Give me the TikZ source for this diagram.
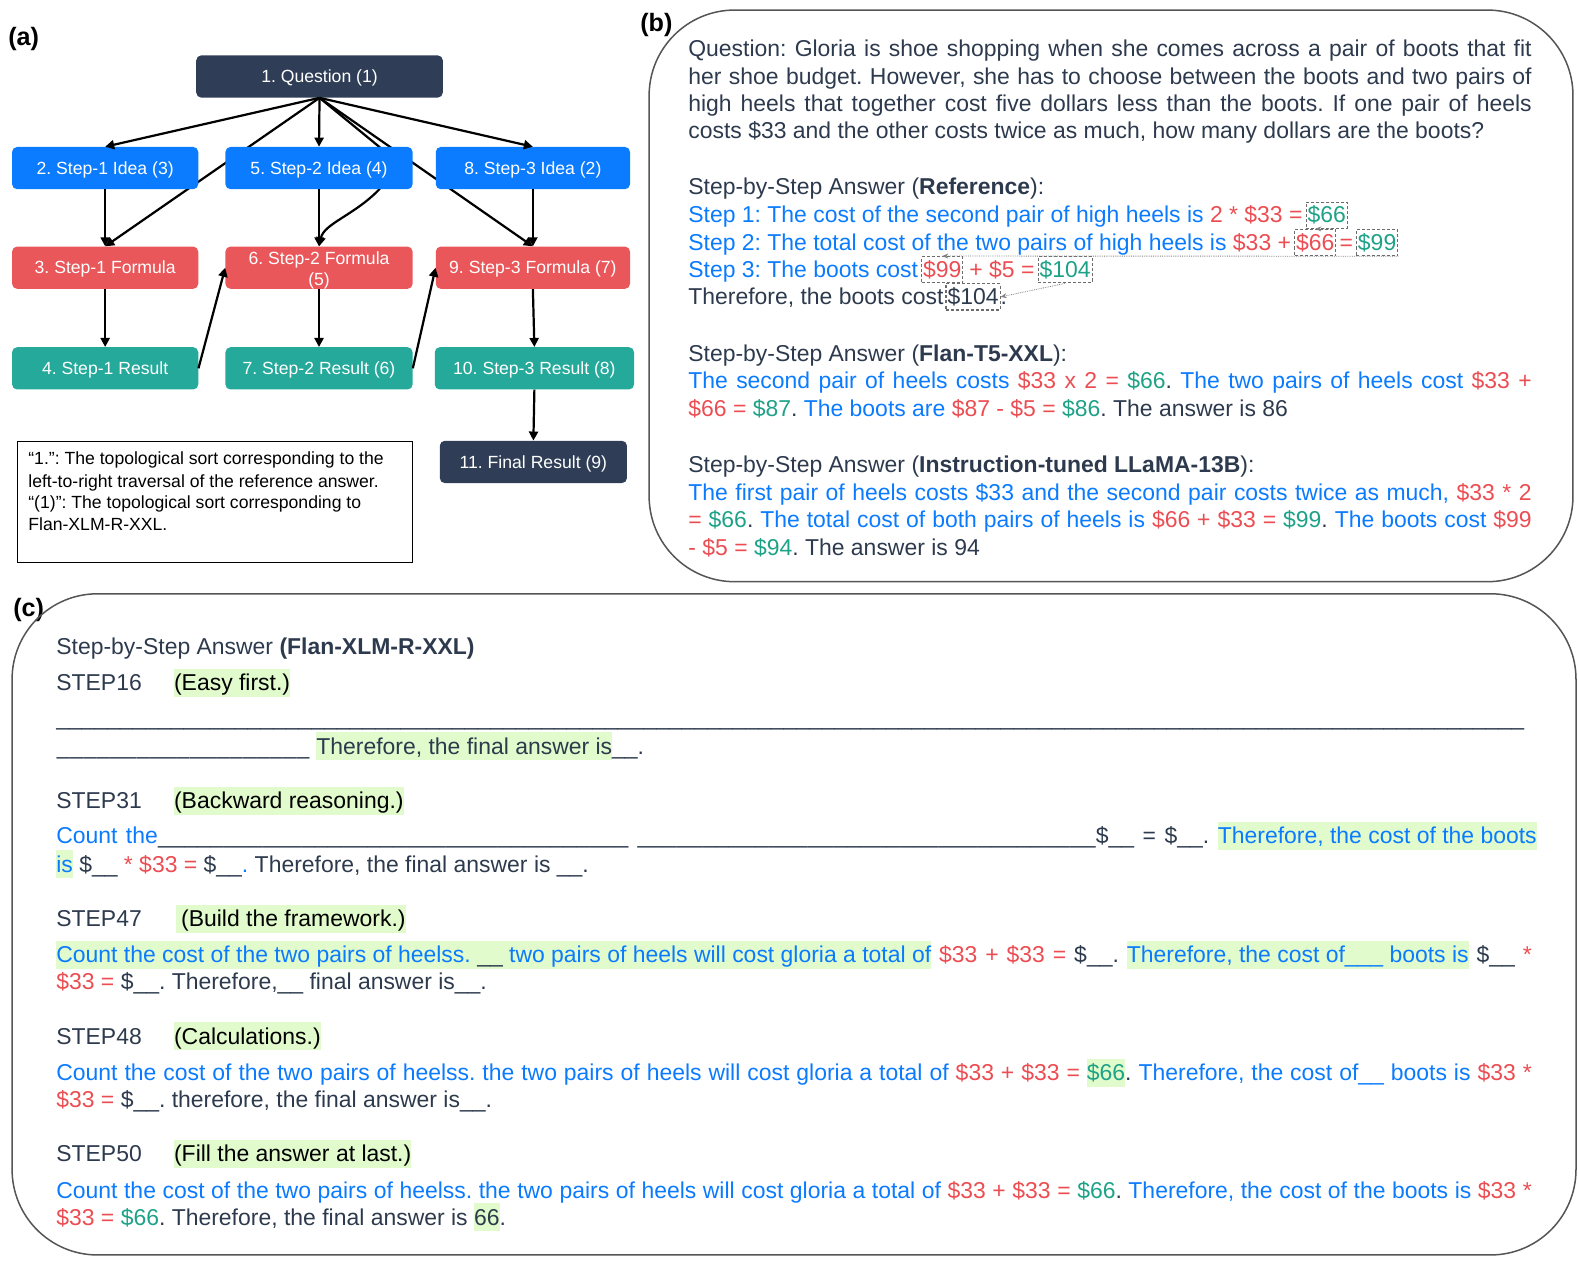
\documentclass[tikz,border=0pt]{standalone}
\usepackage{fontspec}
\setmainfont{Liberation Sans}
\usetikzlibrary{arrows.meta,backgrounds}
\definecolor{navy}{HTML}{2F3E56}
\definecolor{nblue}{HTML}{0B7CFF}
\definecolor{nred}{HTML}{E9575A}
\definecolor{nteal}{HTML}{24A99A}
\definecolor{tdark}{HTML}{2D3A4D}
\definecolor{tblue}{HTML}{0A7BFF}
\definecolor{tred}{HTML}{EB4D52}
\definecolor{tgreen}{HTML}{1EA287}
\definecolor{hlg}{HTML}{E1FBCC}
\definecolor{boxgray}{HTML}{555555}
\newcommand\fb{\fontsize{22.8}{27}\selectfont}
\newcommand\fnd{\fontsize{17.5}{21}\selectfont}
\newcommand\flab{\fontsize{25}{30}\selectfont\bfseries}
\newcommand\cB[1]{\textcolor{tblue}{#1}}
\newcommand\cR[1]{\textcolor{tred}{#1}}
\newcommand\cG[1]{\textcolor{tgreen}{#1}}
\newcommand\cD[1]{\textcolor{tdark}{#1}}
\newcommand\cK[1]{\textcolor{black}{#1}}
\newcommand\hlx[1]{{\setlength{\fboxsep}{0pt}\colorbox{hlg}{\rule[-0.27em]{0pt}{1.22em}#1}}}
\newcommand\ufill[1]{\hbox to #1pt{\xleaders\hbox{\_}\hfill}}
\newcommand\js[2]{\makebox[#1pt][s]{#2}}
\frenchspacing
\begin{document}
\frenchspacing
\begin{tikzpicture}[x=1pt,y=-1pt,
  lab/.style={anchor=base west, inner sep=0pt, font=\flab, text=black},
  gnode/.style={rounded corners=5pt, minimum height=42pt, text=white, font=\fnd, inner sep=2pt, align=center},
  gone/.style={gnode, text height=12.5pt, text depth=0pt},
  barr/.style={line width=2.2pt, draw=black, -{Triangle[length=9pt,width=9pt]}},
  txt/.style={anchor=base west, inner sep=0pt, outer sep=0pt, font=\fb, text=tdark},
  ltxt/.style={anchor=base west, inner sep=0pt, font=\fnd, text=black},
  pbox/.style={draw=boxgray, line width=1.5pt, rounded corners=85pt, inner sep=0pt},
  dbox/.style={draw=gray!85!black, dash pattern=on 3pt off 2pt, line width=1.1pt, inner xsep=1.5pt, inner ysep=0.5pt, text height=20pt, text depth=5pt, anchor=base west, font=\fb, text=tdark},
  garr/.style={draw=gray, line width=0.8pt, densely dotted, -{Stealth[length=6pt,width=5pt]}}
]
\useasboundingbox (0,0) rectangle (1568,1259);

% ---------- labels ----------
\node[lab] (la) at (8,45) {(a)};
\node[lab] (lb) at (636,31) {(b)};
\node[lab] (lc) at (13,613) {(c)};

% ---------- panel boxes ----------
\node[pbox, minimum width=918, minimum height=568] (pb) at (1104,294) {};
\node[pbox, minimum width=1554, minimum height=657] (pc) at (789,918.5) {};

% ---------- panel (a) ----------
\node[gone, fill=navy, minimum width=245] (n1) at (317.5,76) {1. Question (1)};
\node[gone, fill=nblue, minimum width=185] (n2) at (104.5,167) {2. Step-1 Idea (3)};
\node[gone, fill=nblue, minimum width=186] (n5) at (317,167) {5. Step-2 Idea (4)};
\node[gone, fill=nblue, minimum width=193] (n8) at (529.5,167) {8. Step-3 Idea (2)};
\node[gone, fill=nred, minimum width=185] (n3) at (104.5,266) {3. Step-1 Formula};
\node[gnode, fill=nred, minimum width=186,
  label={[yshift=-3pt, text=white, font=\fnd, align=center]center:{6. Step-2 Formula\\(5)}}] (n6) at (317,266) {};
\node[gone, fill=nred, minimum width=193] (n9) at (529.5,266) {9. Step-3 Formula (7)};
\node[gone, fill=nteal, minimum width=185] (n4) at (104.5,366) {4. Step-1 Result};
\node[gone, fill=nteal, minimum width=186] (n7) at (317,366) {7. Step-2 Result (6)};
\node[gone, fill=nteal, minimum width=198] (n10) at (531,366) {10. Step-3 Result (8)};
\node[gone, fill=navy, minimum width=186] (n11) at (530,459) {11. Final Result (9)};

\begin{pgfonlayer}{background}
\draw[barr] (n1.south) -- (n3.north);
\draw[barr] (n1.south) -- (n9.north);
\draw[barr] (n1.south) -- (377,146) -- (377,188) .. controls (352,214) and (322,222) .. (n6.north);
\end{pgfonlayer}
\draw[barr] (n1.south) -- (n2.north);
\draw[barr] (n1.south) -- (n5.north);
\draw[barr] (n1.south) -- (n8.north);
\draw[barr] (n2.south) -- (n3.north);
\draw[barr] (n5.south) -- (n6.north);
\draw[barr] (n8.south) -- (n9.north);
\draw[barr] (n3.south) -- (n4.north);
\draw[barr] (n6.south) -- (n7.north);
\draw[barr] (n9.south) -- (n10.north);
\draw[barr] (n10.south) -- (n11.north);
\draw[barr] (n4.east) -- (n6.west);
\draw[barr] (n7.east) -- (n9.west);

\node[draw=black, line width=1.3pt, minimum width=392, minimum height=120, anchor=north west, inner sep=0pt] (leg) at (17,438) {};
\node[ltxt] (lg1) at (28,462) {“1.”: The topological sort corresponding to the};
\node[ltxt] (lg2) at (28,484) {left-to-right traversal of the reference answer.};
\node[ltxt] (lg3) at (28,505) {“(1)”: The topological sort corresponding to};
\node[ltxt] (lg4) at (28,527) {Flan-XLM-R-XXL.};

% ---------- panel (b) ----------
\node[txt] (q1) at (684,56.5) {\js{838}{Question: Gloria is shoe shopping when she comes across a pair of boots that fit}};
\node[txt] (q2) at (684,83.5) {\js{838}{her shoe budget. However, she has to choose between the boots and two pairs of}};
\node[txt] (q3) at (684,110.5) {\js{838}{high heels that together cost five dollars less than the boots. If one pair of heels}};
\node[txt] (q4) at (684,137.5) {costs \$33 and the other costs twice as much, how many dollars are the boots?};

\node[txt] (rh) at (684,193.5) {Step-by-Step Answer (\textbf{Reference}):};
\node[txt] (s1a) at (684,221.5) {\cB{Step 1: The cost of the second pair of high heels is} \cR{2 * \$33 =}};
\node[dbox] (s1b) at ([xshift=3pt]s1a.base east) {\cG{\$66}};
\node[txt] (s2a) at (684,248.5) {\cB{Step 2: The total cost of the two pairs of high heels is} \cR{\$33 +}};
\node[dbox] (s2b) at ([xshift=3pt]s2a.base east) {\cR{\$66}};
\node[txt] (s2c) at ([xshift=3pt]s2b.base east) {\cR{=}};
\node[dbox] (s2d) at ([xshift=3pt]s2c.base east) {\cG{\$99}};
\node[txt] (s3a) at (684,275.5) {\cB{Step 3: The boots cost}};
\node[dbox] (s3b) at ([xshift=3pt]s3a.base east) {\cR{\$99}};
\node[txt] (s3c) at ([xshift=6pt]s3b.base east) {\cR{+ \$5 =}};
\node[dbox] (s3d) at ([xshift=3pt]s3c.base east) {\cG{\$104}};
\node[txt] (t1a) at (684,302.5) {Therefore, the boots cost};
\node[dbox] (t1b) at ([xshift=2pt]t1a.base east) {\$104};
\node[txt] (t1c) at (t1b.base east) {.};
\draw[garr] ([xshift=4pt]s1b.south) -- (s2b.north);
\draw[garr] (s2d.south east) -- (s3b.north);
\draw[garr] (s3d.south) -- (t1b.east);

\node[txt] (fh) at (684,359.5) {Step-by-Step Answer (\textbf{Flan-T5-XXL}):};
\node[txt] (f1) at (684,386.5) {\js{838}{\cB{The second pair of heels costs} \cR{\$33 x 2 =} \cG{\$66}. \cB{The two pairs of heels cost} \cR{\$33 +}}};
\node[txt] (f2) at (684,413.5) {\cR{\$66 =} \cG{\$87}. \cB{The boots are} \cR{\$87 - \$5 =} \cG{\$86}. The answer is 86};

\node[txt] (lh) at (684,469.5) {Step-by-Step Answer (\textbf{Instruction-tuned LLaMA-13B}):};
\node[txt] (m1) at (684,497.5) {\js{838}{\cB{The first pair of heels costs \$33 and the second pair costs twice as much,} \cR{\$33 * 2}}};
\node[txt] (m2) at (684,524.5) {\js{838}{\cR{=} \cG{\$66}. \cB{The total cost of both pairs of heels is} \cR{\$66 + \$33 =} \cG{\$99}. \cB{The boots cost} \cR{\$99}}};
\node[txt] (m3) at (684,551.5) {\cR{- \$5 =} \cG{\$94}. The answer is 94};

% ---------- panel (c) ----------
\node[txt] (ch) at (56,650.5) {Step-by-Step Answer \textbf{(Flan-XLM-R-XXL)}};
\node[txt] (st16) at (56,686.5) {STEP16};
\node[txt] (h16) at (173,686.5) {\hlx{\cK{(Easy first.)}}};
\node[txt] (u1) at (56,721) {\ufill{1459}};
\node[txt] (u2) at (56,749.5) {\ufill{252} \hlx{Therefore, the final answer is}\_\_.};

\node[txt] (st31) at (56,803.5) {STEP31};
\node[txt] (h31) at (173,803.5) {\hlx{\cK{(Backward reasoning.)}}};
\node[txt] (c31a) at (56,838.5) {\js{1471}{\cB{Count the}\ufill{468} \ufill{456}\$\_\_ = \$\_\_. \hlx{\cB{Therefore, the cost of the boots}}}};
\node[txt] (c31b) at (56,866.5) {\hlx{\cB{is}} \$\_\_ \cR{* \$33 =} \$\_\_\cB{.} Therefore, the final answer is \_\_.};

\node[txt] (st47) at (56,920.5) {STEP47};
\node[txt] (h47) at (175,920.5) {\hlx{\hspace{5pt}\cK{(Build the framework.)}}};
\node[txt] (c47a) at (56,956.5) {\js{1466}{\hlx{\cB{Count the cost of the two pairs of heelss. \cD{\_\_} two pairs of heels will cost gloria a total of}} \cR{\$33 + \$33 =} \$\_\_. \hlx{\cB{Therefore, the cost of\_\_\_ boots is}} \$\_\_ \cR{*}}};
\node[txt] (c47b) at (56,983.5) {\cR{\$33 =} \$\_\_. Therefore,\_\_ final answer is\_\_.};

\node[txt] (st48) at (56,1037.5) {STEP48};
\node[txt] (h48) at (173,1037.5) {\hlx{\cK{(Calculations.)}}};
\node[txt] (c48a) at (56,1073.5) {\js{1466}{\cB{Count the cost of the two pairs of heelss. the two pairs of heels will cost gloria a total of} \cR{\$33 + \$33 =} \hlx{\cG{\$66}}. \cB{Therefore, the cost of\_\_ boots is} \cR{\$33 *}}};
\node[txt] (c48b) at (56,1100.5) {\cR{\$33 =} \$\_\_. therefore, the final answer is\_\_.};

\node[txt] (st50) at (56,1154.5) {STEP50};
\node[txt] (h50) at (173,1154.5) {\hlx{\cK{(Fill the answer at last.)}}};
\node[txt] (c50a) at (56,1190.5) {\js{1466}{\cB{Count the cost of the two pairs of heelss. the two pairs of heels will cost gloria a total of} \cR{\$33 + \$33 =} \cG{\$66}. \cB{Therefore, the cost of the boots is} \cR{\$33 *}}};
\node[txt] (c50b) at (56,1217.5) {\cR{\$33 =} \cG{\$66}. Therefore, the final answer is \hlx{66}.};
\end{tikzpicture}
\end{document}
